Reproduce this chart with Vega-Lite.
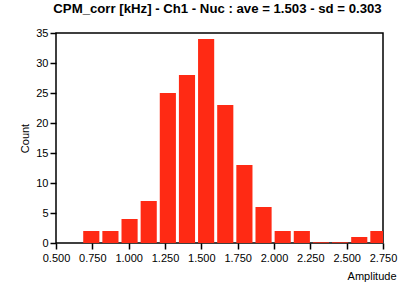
{
  "$schema": "https://vega.github.io/schema/vega-lite/v6.json",
  "width": 327,
  "height": 210,
  "autosize": "none",
  "padding": {"left": 56, "top": 33, "right": 25, "bottom": 44},
  "background": "white",
  "title": {
    "text": "CPM_corr [kHz] - Ch1 - Nuc : ave = 1.503 - sd = 0.303",
    "font": "Liberation Sans",
    "fontSize": 13.2,
    "fontWeight": "bold",
    "color": "black",
    "anchor": "middle",
    "frame": "group",
    "baseline": "alphabetic",
    "dx": -2,
    "offset": 1
  },
  "data": {
    "values": [
      {"bin_start": 0.6735, "bin_end": 0.8052, "count": 2},
      {"bin_start": 0.8052, "bin_end": 0.9369, "count": 2},
      {"bin_start": 0.9369, "bin_end": 1.0686, "count": 4},
      {"bin_start": 1.0686, "bin_end": 1.2003, "count": 7},
      {"bin_start": 1.2003, "bin_end": 1.3320, "count": 25},
      {"bin_start": 1.3320, "bin_end": 1.4637, "count": 28},
      {"bin_start": 1.4637, "bin_end": 1.5954, "count": 34},
      {"bin_start": 1.5954, "bin_end": 1.7271, "count": 23},
      {"bin_start": 1.7271, "bin_end": 1.8588, "count": 13},
      {"bin_start": 1.8588, "bin_end": 1.9905, "count": 6},
      {"bin_start": 1.9905, "bin_end": 2.1222, "count": 2},
      {"bin_start": 2.1222, "bin_end": 2.2539, "count": 2},
      {"bin_start": 2.2539, "bin_end": 2.3856, "count": 0},
      {"bin_start": 2.3856, "bin_end": 2.5173, "count": 0},
      {"bin_start": 2.5173, "bin_end": 2.6490, "count": 1},
      {"bin_start": 2.6490, "bin_end": 2.7807, "count": 2}
    ]
  },
  "mark": {"type": "bar", "color": "#ff2a14", "stroke": "#ff2a14", "clip": true, "binSpacing": 3},
  "encoding": {
    "x": {
      "field": "bin_start",
      "type": "quantitative",
      "bin": "binned",
      "scale": {"domain": [0.5, 2.75], "nice": false, "zero": false},
      "axis": {
        "title": "Amplitude",
        "values": [0.5, 0.75, 1.0, 1.25, 1.5, 1.75, 2.0, 2.25, 2.5, 2.75],
        "format": ".3f",
        "labelFont": "Liberation Sans",
        "labelFontSize": 11,
        "labelColor": "black",
        "labelFlush": false,
        "labelPadding": 3,
        "tickColor": "black",
        "tickSize": 6,
        "tickWidth": 1.5,
        "domain": false,
        "grid": false,
        "titleFont": "Liberation Sans",
        "titleFontSize": 11,
        "titleFontWeight": "normal",
        "titleColor": "black",
        "titleAlign": "right",
        "titleAnchor": "end",
        "titleX": 340,
        "titleY": 36,
        "titleBaseline": "alphabetic"
      }
    },
    "x2": {"field": "bin_end"},
    "y": {
      "field": "count",
      "type": "quantitative",
      "scale": {"domain": [0, 35], "nice": false},
      "axis": {
        "title": "Count",
        "values": [0, 5, 10, 15, 20, 25, 30, 35],
        "labelFont": "Liberation Sans",
        "labelFontSize": 11,
        "labelColor": "black",
        "labelPadding": 2,
        "tickColor": "black",
        "tickSize": 6,
        "tickWidth": 1.5,
        "domain": false,
        "grid": false,
        "titleFont": "Liberation Sans",
        "titleFontSize": 11,
        "titleFontWeight": "normal",
        "titleColor": "black",
        "titleAngle": -90,
        "titleX": -28,
        "titleY": 105,
        "titleAlign": "center",
        "titleBaseline": "alphabetic"
      }
    },
    "strokeWidth": {"condition": {"test": "datum.count == 0", "value": 1}, "value": 0}
  },
  "config": {"view": {"stroke": "black", "strokeWidth": 1.5}}
}
